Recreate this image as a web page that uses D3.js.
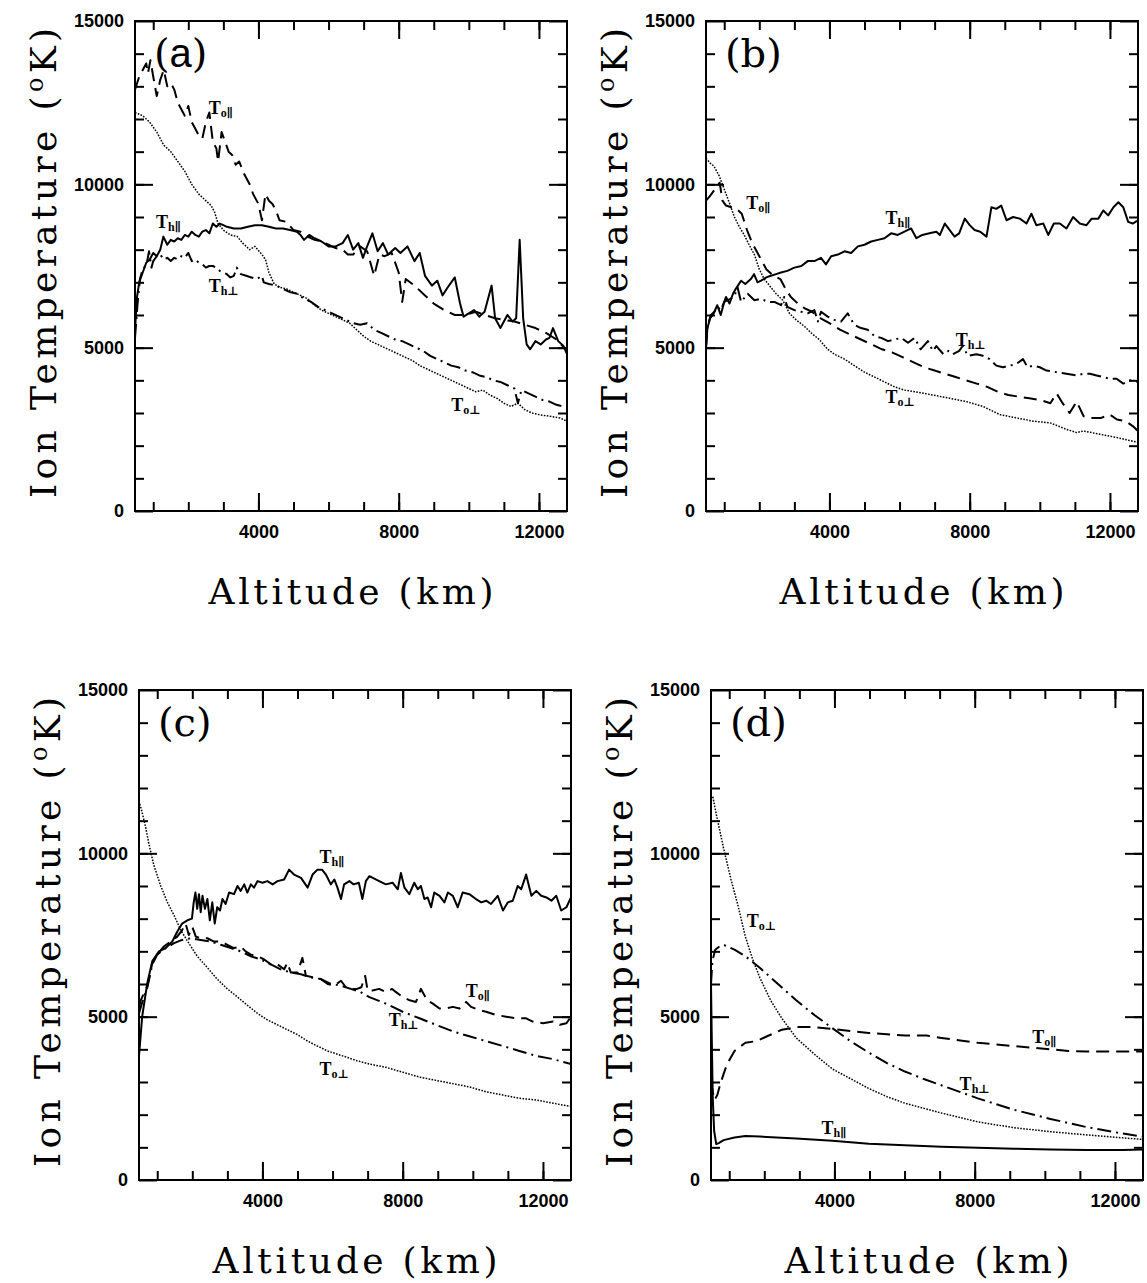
<!DOCTYPE html>
<html>
<head>
<meta charset="utf-8">
<script src="https://cdn.jsdelivr.net/npm/d3@7"></script>
<style>
body { margin: 0; background: #fff; }
</style>
</head>
<body>
<div id="chart"></div>
<script>
// altitude (km) / ion temperature (K)
const xDomain = [480, 12800];
const yDomain = [0, 15000];
const xMinorTicks = d3.range(1000, 13000, 1000);
const xMajorTicks = [4000, 8000, 12000];
const yMinorTicks = d3.range(1000, 15000, 1000);
const yMajorTicks = [0, 5000, 10000, 15000];

// panel (a)
const a_To_par = [[480,12900],[600,13300],[700,13500],[800,13700],[850,13400],[920,13800],[1000,13300],[1100,12700],[1200,13200],[1300,13500],[1400,13000],[1500,13100],[1600,12900],[1700,12500],[1800,12300],[1900,12100],[2000,12400],[2100,11900],[2200,11700],[2300,11500],[2400,11400],[2500,11900],[2600,12200],[2700,11300],[2800,11100],[2850,10700],[2950,11600],[3050,11300],[3150,11000],[3250,10900],[3350,10600],[3450,10700],[3600,10300],[3750,10000],[3850,9700],[4000,9400],[4100,8900],[4200,9700],[4300,9500],[4400,9400],[4500,9200],[4600,8900],[4800,8850],[5000,8600],[5200,8550],[5400,8400],[5600,8300],[5800,8250],[6000,8150],[6200,8050],[6400,8000],[6550,7850],[6700,7850],[6900,8100],[7100,7950],[7300,7200],[7450,7850],[7600,7800],[7800,7900],[8000,7300],[8100,6400],[8200,7100],[8450,6900],[8750,6600],[9000,6350],[9300,6150],[9600,6000],[9900,6000],[10200,6100],[10450,6000],[10750,5900],[11000,5850],[11300,5800],[11600,5700],[11900,5600],[12200,5450],[12500,5250],[12800,4900]];
const a_Th_par = [[480,5500],[530,6500],[600,7000],[700,7300],[800,7600],[900,7700],[1000,7900],[1100,7800],[1200,8000],[1290,8400],[1400,8150],[1500,8300],[1600,8250],[1700,8350],[1800,8300],[1900,8450],[2000,8400],[2100,8550],[2200,8450],[2300,8400],[2400,8550],[2500,8600],[2600,8500],[2700,8800],[2800,8700],[2900,8800],[3000,8750],[3100,8700],[3300,8650],[3500,8650],[3700,8700],[3900,8750],[4100,8750],[4300,8700],[4500,8650],[4700,8650],[4900,8600],[5100,8550],[5200,8450],[5300,8300],[5450,8450],[5600,8350],[5800,8250],[6000,8100],[6200,8100],[6400,8200],[6550,8450],[6700,8000],[6850,8200],[6980,7750],[7100,8100],[7250,8500],[7400,7950],[7550,8200],[7700,7850],[7900,8050],[8050,7900],[8250,8100],[8450,7650],[8600,7900],[8750,7200],[8950,6900],[9100,7050],[9250,6600],[9400,6850],[9600,7150],[9750,6350],[9850,5950],[10000,6050],[10150,6150],[10300,5950],[10450,6100],[10650,6900],[10750,5900],[10900,5600],[11100,6000],[11250,5800],[11350,5900],[11450,8300],[11550,5900],[11650,5100],[11750,4950],[11900,5200],[12050,5100],[12200,5250],[12300,5300],[12400,5600],[12550,5200],[12700,5050],[12800,4800]];
const a_Th_perp = [[480,5300],[550,6300],[620,7100],[700,7400],[810,7550],[880,7950],[950,7450],[1000,7650],[1100,7800],[1200,7850],[1300,7700],[1400,7750],[1500,7650],[1600,7750],[1700,7700],[1800,7800],[1900,7750],[2000,7900],[2100,7650],[2200,7700],[2300,7600],[2400,7550],[2500,7450],[2600,7500],[2700,7500],[2800,7450],[2900,7350],[3000,7300],[3100,7250],[3200,7150],[3300,7200],[3380,7450],[3500,7250],[3650,7200],[3800,7150],[3950,7100],[4100,7200],[4150,7000],[4300,6950],[4500,6900],[4700,6800],[4900,6700],[5100,6650],[5300,6500],[5500,6400],[5700,6250],[5900,6150],[6100,6050],[6300,5950],[6500,5850],[6700,5750],[6900,5700],[7100,5750],[7300,5550],[7500,5450],[7700,5350],[7900,5250],[8100,5200],[8300,5100],[8500,5000],[8700,4900],[8900,4750],[9100,4650],[9300,4550],[9500,4450],[9700,4400],[9900,4300],[10100,4250],[10300,4150],[10500,4100],[10700,4000],[10900,3950],[11100,3850],[11300,3750],[11400,3300],[11500,3700],[11700,3600],[11900,3500],[12100,3400],[12300,3350],[12500,3250],[12700,3200],[12800,3200]];
const a_To_perp = [[480,12200],[700,12100],[900,11900],[1100,11600],[1300,11200],[1500,11000],[1700,10700],[1900,10400],[2100,10000],[2300,9700],[2500,9500],[2650,9350],[2750,9150],[2850,8800],[3000,8600],[3200,8450],[3400,8400],[3550,8200],[3750,8000],[3900,8100],[4100,7850],[4200,7700],[4300,7300],[4450,6950],[4600,6850],[4800,6800],[5000,6700],[5200,6600],[5400,6500],[5600,6300],[5800,6150],[6000,6050],[6200,5950],[6400,5850],[6600,5750],[6800,5550],[7000,5350],[7200,5200],[7400,5100],[7600,5000],[7800,4900],[8000,4800],[8200,4700],[8400,4600],[8600,4450],[8800,4350],[9000,4250],[9200,4150],[9400,4050],[9600,3950],[9800,3850],[10000,3750],[10200,3650],[10400,3700],[10600,3550],[10800,3450],[11000,3300],[11200,3200],[11400,3300],[11600,3100],[11800,3000],[12000,2950],[12300,2900],[12600,2850],[12800,2750]];

// panel (b)
const b_To_par = [[480,9500],[600,9650],[700,9800],[800,9950],[870,10050],[950,9500],[1050,9350],[1200,9300],[1350,9250],[1500,9100],[1650,8600],[1800,8200],[2000,7800],[2200,7400],[2400,7200],[2600,7100],[2750,6800],[2900,6550],[3100,6350],[3300,6200],[3500,6100],[3750,5900],[4000,5750],[4300,5550],[4600,5400],[4900,5250],[5200,5100],[5500,4950],[5800,4850],[6100,4700],[6400,4550],[6700,4400],[7000,4300],[7300,4200],[7600,4100],[7900,4000],[8200,3900],[8500,3800],[8800,3650],[9100,3550],[9400,3500],[9700,3450],[10000,3400],[10300,3300],[10480,3600],[10650,3300],[10850,3000],[11050,3350],[11250,2900],[11500,2850],[11750,2850],[12000,2950],[12200,2800],[12450,2750],[12650,2600],[12800,2450]];
const b_Th_par = [[480,5000],[520,5600],[600,5900],[700,6050],[800,6300],[900,6000],[1000,6400],[1050,6550],[1150,6350],[1250,6650],[1330,6800],[1480,7050],[1600,6950],[1760,7100],[1850,7250],[1950,7000],[2050,7050],[2200,7150],[2330,7200],[2480,7250],[2620,7300],[2800,7350],[3000,7450],[3200,7500],[3380,7650],[3570,7650],[3760,7750],[3900,7550],[4050,7800],[4240,7850],[4430,7950],[4620,7900],[4810,8100],[5000,8150],[5190,8250],[5380,8300],[5570,8350],[5760,8500],[5950,8450],[6140,8550],[6330,8650],[6480,8350],[6650,8450],[6850,8500],[7050,8550],[7150,8450],[7290,8800],[7430,8600],[7570,8400],[7700,8500],[7860,8950],[8000,8750],[8140,8600],[8300,8550],[8480,8400],[8620,9300],[8760,9250],[8900,9350],[9050,8900],[9240,9000],[9430,8950],[9620,8800],[9760,9100],[9900,8750],[10100,8800],[10240,8450],[10400,8800],[10570,8800],[10760,8650],[10950,9000],[11140,8800],[11330,8750],[11480,8950],[11670,8950],[11810,9200],[11950,9050],[12100,9300],[12240,9450],[12380,9300],[12520,8850],[12650,8800],[12800,8900]];
const b_Th_perp = [[480,5000],[530,5700],[620,6000],[720,6100],[810,6250],[900,6150],[1000,6400],[1190,6500],[1300,6600],[1380,6850],[1480,6400],[1670,6650],[1860,6450],[2050,6500],[2240,6400],[2430,6400],[2620,6300],[2710,6550],[2800,6250],[3000,6150],[3190,6100],[3380,6050],[3570,6150],[3670,5800],[3760,6100],[3950,5950],[4140,5850],[4330,5800],[4520,6050],[4710,5700],[4900,5600],[5090,5550],[5290,5350],[5480,5300],[5670,5200],[5860,5250],[6050,5300],[6240,5150],[6430,5300],[6600,4950],[6810,5200],[6950,4900],[7050,5050],[7250,4800],[7400,4900],[7520,4800],[7700,4900],[7800,5050],[7950,4750],[8190,4800],[8380,4750],[8570,4650],[8760,4450],[8950,4400],[9140,4450],[9330,4500],[9520,4650],[9650,4400],[9810,4450],[10000,4400],[10190,4300],[10480,4250],[10760,4200],[11050,4150],[11240,4200],[11430,4200],[11620,4150],[11810,4100],[12000,4050],[12190,4050],[12380,3900],[12570,4000],[12800,3950]];
const b_To_perp = [[480,10800],[600,10650],[710,10550],[860,10250],[1000,9850],[1140,9450],[1290,9000],[1430,8700],[1570,8450],[1710,8150],[1860,7850],[2000,7400],[2140,7100],[2290,6900],[2480,6650],[2670,6450],[2860,6050],[3050,5850],[3290,5650],[3480,5450],[3710,5250],[3950,4950],[4140,4800],[4430,4650],[4710,4450],[5000,4250],[5290,4100],[5570,3950],[5860,3800],[6140,3700],[6430,3650],[6700,3600],[6950,3550],[7430,3450],[7900,3350],[8380,3200],[8860,2950],[9330,2850],[9810,2750],[10290,2700],[10760,2500],[11050,2400],[11240,2450],[11710,2350],[12190,2250],[12800,2100]];

// panel (c)
const c_To_par = [[480,5300],[530,5500],[720,5950],[860,6650],[1000,6900],[1190,7150],[1380,7300],[1570,7450],[1710,7650],[1810,7850],[1900,7500],[2000,7750],[2100,7450],[2240,7400],[2430,7400],[2620,7300],[2810,7300],[3000,7200],[3190,7100],[3380,7150],[3520,7000],[3670,6900],[3860,6850],[4050,6750],[4240,6600],[4430,6600],[4620,6450],[4710,6650],[4810,6350],[5000,6350],[5140,6800],[5240,6250],[5480,6200],[5670,6150],[5860,6000],[6050,5950],[6240,6100],[6380,5900],[6520,5850],[6700,5850],[6820,5900],[6930,6250],[7000,5800],[7140,5800],[7330,5850],[7520,5750],[7700,5850],[7810,5750],[8000,5600],[8200,5500],[8380,5450],[8520,5850],[8700,5500],[8860,5400],[9050,5250],[9240,5250],[9430,5300],[9620,5250],[9810,5450],[9950,5300],[10190,5200],[10380,5150],[10670,5050],[10950,5000],[11240,4950],[11520,4950],[11710,4850],[12000,4800],[12290,4850],[12480,4750],[12670,4800],[12800,5000]];
const c_Th_par = [[480,3800],[570,5000],[720,6050],[860,6700],[1050,7000],[1240,7100],[1430,7300],[1570,7600],[1710,7850],[1860,7950],[1990,8000],[2040,8500],[2090,8800],[2140,8300],[2190,8750],[2240,8200],[2290,8700],[2360,8300],[2430,8600],[2500,7950],[2570,8500],[2640,7850],[2710,8350],[2790,8250],[2860,8600],[2950,8450],[3050,8800],[3190,8750],[3290,9000],[3380,8850],[3480,9050],[3570,8800],[3670,9050],[3760,8950],[3860,9150],[4000,9100],[4140,9150],[4290,9050],[4430,9150],[4620,9200],[4760,9500],[4900,9350],[5100,9250],[5290,8950],[5430,9350],[5570,9500],[5700,9500],[5810,9350],[5950,9050],[6050,9200],[6140,8950],[6240,8600],[6330,9050],[6480,9150],[6600,9050],[6750,9100],[6850,8600],[6950,9150],[7050,9300],[7330,9150],[7520,9050],[7710,9100],[7860,8900],[7950,9400],[8050,8950],[8190,8750],[8330,9100],[8430,8900],[8520,9000],[8620,8600],[8710,8650],[8810,8350],[8900,8800],[9050,8700],[9190,8500],[9290,8800],[9430,8700],[9570,8350],[9710,8800],[9900,8750],[10090,8600],[10240,8500],[10380,8550],[10520,8450],[10710,8700],[10860,8250],[11000,8500],[11140,8550],[11280,9000],[11380,8900],[11520,9350],[11670,8700],[11810,8850],[11950,8700],[12100,8650],[12240,8550],[12380,8700],[12520,8250],[12670,8350],[12800,8650]];
const c_Th_perp = [[480,5100],[560,5400],[720,5900],[860,6600],[1000,6900],[1240,7100],[1480,7250],[1710,7350],[1950,7400],[2240,7350],[2520,7300],[2810,7200],[3100,7100],[3380,7000],[3670,6850],[3950,6750],[4240,6600],[4520,6450],[4810,6350],[5100,6300],[5380,6200],[5670,6150],[5950,6000],[6240,5950],[6520,5850],[6800,5750],[7050,5600],[7520,5400],[8000,5150],[8480,4950],[8950,4750],[9430,4550],[9900,4400],[10380,4250],[10860,4100],[11330,3950],[11810,3800],[12290,3700],[12800,3550]];
const c_To_perp = [[480,11600],[570,11250],[670,10800],[760,10300],[900,9650],[1100,9000],[1290,8500],[1480,8100],[1670,7650],[1900,7250],[2140,6850],[2430,6500],[2710,6150],[3000,5850],[3290,5600],[3570,5350],[3860,5100],[4140,4900],[4430,4750],[4710,4600],[5000,4450],[5290,4250],[5570,4100],[5860,3950],[6140,3850],[6430,3750],[6700,3650],[7050,3550],[7520,3450],[8000,3300],[8480,3150],[8950,3050],[9430,2950],[9900,2850],[10380,2700],[10860,2600],[11330,2500],[11810,2450],[12290,2350],[12800,2250]];

// panel (d)
const d_To_par = [[480,3000],[530,2700],[580,2450],[660,2600],[735,2900],[840,3250],[940,3550],[1150,3950],[1460,4200],[1770,4250],[2080,4400],[2500,4600],[2910,4680],[3430,4680],[3940,4620],[4980,4500],[6010,4420],[6630,4420],[7050,4350],[8090,4200],[9120,4100],[10160,4000],[10670,3950],[11190,3930],[12230,3930],[12800,3930]];
const d_Th_par = [[480,6000],[500,4500],[530,2500],[570,1500],[630,1100],[700,1130],[840,1220],[1150,1300],[1460,1350],[1870,1330],[2910,1270],[3940,1200],[4980,1110],[6010,1060],[7050,1020],[8090,990],[9120,960],[10160,930],[11190,920],[12230,920],[12800,930]];
const d_Th_perp = [[480,6000],[520,6700],[600,7050],[720,7150],[840,7200],[1150,7050],[1460,6850],[1870,6500],[2390,6000],[2910,5500],[3430,5050],[3940,4650],[4460,4250],[4980,3900],[5500,3580],[6010,3320],[6530,3100],[7050,2900],[8090,2500],[9120,2150],[10160,1870],[11190,1620],[12230,1420],[12800,1330]];
const d_To_perp = [[480,11700],[530,11750],[630,11200],[840,10150],[1050,9200],[1250,8400],[1460,7450],[1670,6750],[1870,6200],[2180,5500],[2500,4950],[2910,4350],[3430,3850],[3940,3400],[4460,3100],[4980,2800],[5500,2550],[6010,2350],[6530,2200],[7050,2050],[8090,1780],[9120,1600],[10160,1480],[11190,1380],[12230,1290],[12800,1240]];

// curve labels: [species, direction, altitude, temperature]
const a_labels = [['o','∥',2580,12150],['h','∥',1080,8650],['h','⊥',2580,6700],['o','⊥',9500,3050]];
const b_labels = [['o','∥',1630,9250],['h','∥',5600,8800],['h','⊥',7600,5050],['o','⊥',5600,3300]];
const c_labels = [['h','∥',5630,9700],['o','∥',9800,5600],['h','⊥',7600,4700],['o','⊥',5630,3200]];
const d_labels = [['o','⊥',1500,7750],['o','∥',9640,4200],['h','⊥',7570,2750],['h','∥',3630,1400]];

const svgWidth = 1147;
const svgHeight = 1283;
const plotW = 432;
const plotH = 490;

const panels = [
    {id: 'a', left: 135, top: 21, series: {To_perp: a_To_perp, Th_perp: a_Th_perp, To_par: a_To_par, Th_par: a_Th_par}, labels: a_labels},
    {id: 'b', left: 706, top: 21, series: {To_perp: b_To_perp, Th_perp: b_Th_perp, To_par: b_To_par, Th_par: b_Th_par}, labels: b_labels},
    {id: 'c', left: 139, top: 690, series: {To_perp: c_To_perp, Th_perp: c_Th_perp, To_par: c_To_par, Th_par: c_Th_par}, labels: c_labels},
    {id: 'd', left: 711, top: 690, series: {To_perp: d_To_perp, Th_perp: d_Th_perp, To_par: d_To_par, Th_par: d_Th_par}, labels: d_labels}
];

// line style for each temperature component
const styles = {
    Th_par: {dash: null, width: 2},
    To_par: {dash: '13,7', width: 2},
    Th_perp: {dash: '14,5,2,5', width: 2},
    To_perp: {dash: '1.6,1.4', width: 1.5}
};

const svg = d3.select('#chart')
.append('svg')
.attr('width', svgWidth)
.attr('height', svgHeight)
.style('background', '#fff');

const x = d3.scaleLinear().domain(xDomain).range([0, plotW]);
const y = d3.scaleLinear().domain(yDomain).range([plotH, 0]);

const line = d3.line()
.x((d) => x(d[0]))
.y((d) => y(d[1]));

const titleFont = "'DejaVu Serif', 'Liberation Serif', serif";
const tickFont = "'Liberation Sans', Arial, sans-serif";
const labelFont = "'Liberation Serif', 'DejaVu Serif', serif";

// draws inward ticks on one side, returns the axis group
const drawAxis = (g, axis, transform, values, size, labelled) => {
    const ax = g.append('g')
    .attr('transform', transform)
    .call(axis.tickValues(values).tickSize(-size).tickPadding(labelled ? 11 : 0)
        .tickFormat(labelled ? d3.format('d') : ''));
    ax.select('.domain').remove();
    ax.selectAll('line').attr('stroke', '#000').attr('stroke-width', 2);
    ax.selectAll('text')
    .attr('fill', '#000')
    .attr('font-family', tickFont)
    .attr('font-weight', 'bold')
    .attr('font-size', 18);
    return ax;
};

panels.forEach((p) => {
    const g = svg.append('g').attr('transform', `translate(${p.left}, ${p.top})`);

    g.append('clipPath')
    .attr('id', 'clip-' + p.id)
    .append('rect')
    .attr('width', plotW)
    .attr('height', plotH);

    const curves = g.append('g').attr('clip-path', `url(#clip-${p.id})`);

    Object.keys(p.series).forEach((k) => {
        curves.append('path')
        .datum(p.series[k])
        .attr('d', line)
        .attr('fill', 'none')
        .attr('stroke', '#000')
        .attr('stroke-width', styles[k].width)
        .attr('stroke-dasharray', styles[k].dash)
        .attr('stroke-linejoin', 'round');
    });

    // ticks on all four sides
    drawAxis(g, d3.axisBottom(x), `translate(0, ${plotH})`, xMinorTicks, 9, false);
    drawAxis(g, d3.axisBottom(x), `translate(0, ${plotH})`, xMajorTicks, 18, true)
    .selectAll('text').attr('dy', '0.9em');
    drawAxis(g, d3.axisTop(x), 'translate(0, 0)', xMinorTicks, 9, false);
    drawAxis(g, d3.axisTop(x), 'translate(0, 0)', xMajorTicks, 18, false);
    drawAxis(g, d3.axisLeft(y), 'translate(0, 0)', yMinorTicks, 9, false);
    drawAxis(g, d3.axisLeft(y), 'translate(0, 0)', yMajorTicks, 18, true);
    drawAxis(g, d3.axisRight(y), `translate(${plotW}, 0)`, yMinorTicks, 9, false);
    drawAxis(g, d3.axisRight(y), `translate(${plotW}, 0)`, yMajorTicks, 18, false);

    // frame
    g.append('rect')
    .attr('width', plotW)
    .attr('height', plotH)
    .attr('fill', 'none')
    .attr('stroke', '#000')
    .attr('stroke-width', 2);

    // panel letter
    const letter = g.append('text')
    .attr('x', 19)
    .attr('y', 46)
    .attr('font-family', titleFont)
    .attr('font-size', 40)
    .attr('fill', '#000');
    letter.append('tspan').text('(');
    letter.append('tspan')
    .attr('font-family', p.id === 'a' ? tickFont : titleFont)
    .text(p.id);
    letter.append('tspan').text(')');

    // curve labels
    p.labels.forEach((l) => {
        const t = g.append('text')
        .attr('x', x(l[2]))
        .attr('y', y(l[3]))
        .attr('font-family', labelFont)
        .attr('font-weight', 'bold')
        .attr('font-size', 18)
        .attr('fill', '#000');
        t.append('tspan').text('T');
        t.append('tspan')
        .attr('font-size', 12)
        .attr('dy', 3)
        .text(l[0] + l[1]);
    });

    // axis titles
    g.append('text')
    .attr('x', plotW / 2)
    .attr('y', plotH + 93)
    .attr('text-anchor', 'middle')
    .attr('font-family', titleFont)
    .attr('font-size', 36)
    .attr('textLength', 285)
    .attr('lengthAdjust', 'spacing')
    .attr('fill', '#000')
    .text('Altitude (km)');

    const yt = g.append('text')
    .attr('transform', `translate(-79, ${plotH / 2 - 3}) rotate(-90)`)
    .attr('text-anchor', 'middle')
    .attr('font-family', titleFont)
    .attr('font-size', 36)
    .attr('textLength', 470)
    .attr('lengthAdjust', 'spacing')
    .attr('fill', '#000');
    yt.append('tspan').text('Ion Temperature (');
    yt.append('tspan').attr('font-size', 24).attr('dy', -13).text('o');
    yt.append('tspan').attr('dy', 13).text('K)');
});
</script>
</body>
</html>
